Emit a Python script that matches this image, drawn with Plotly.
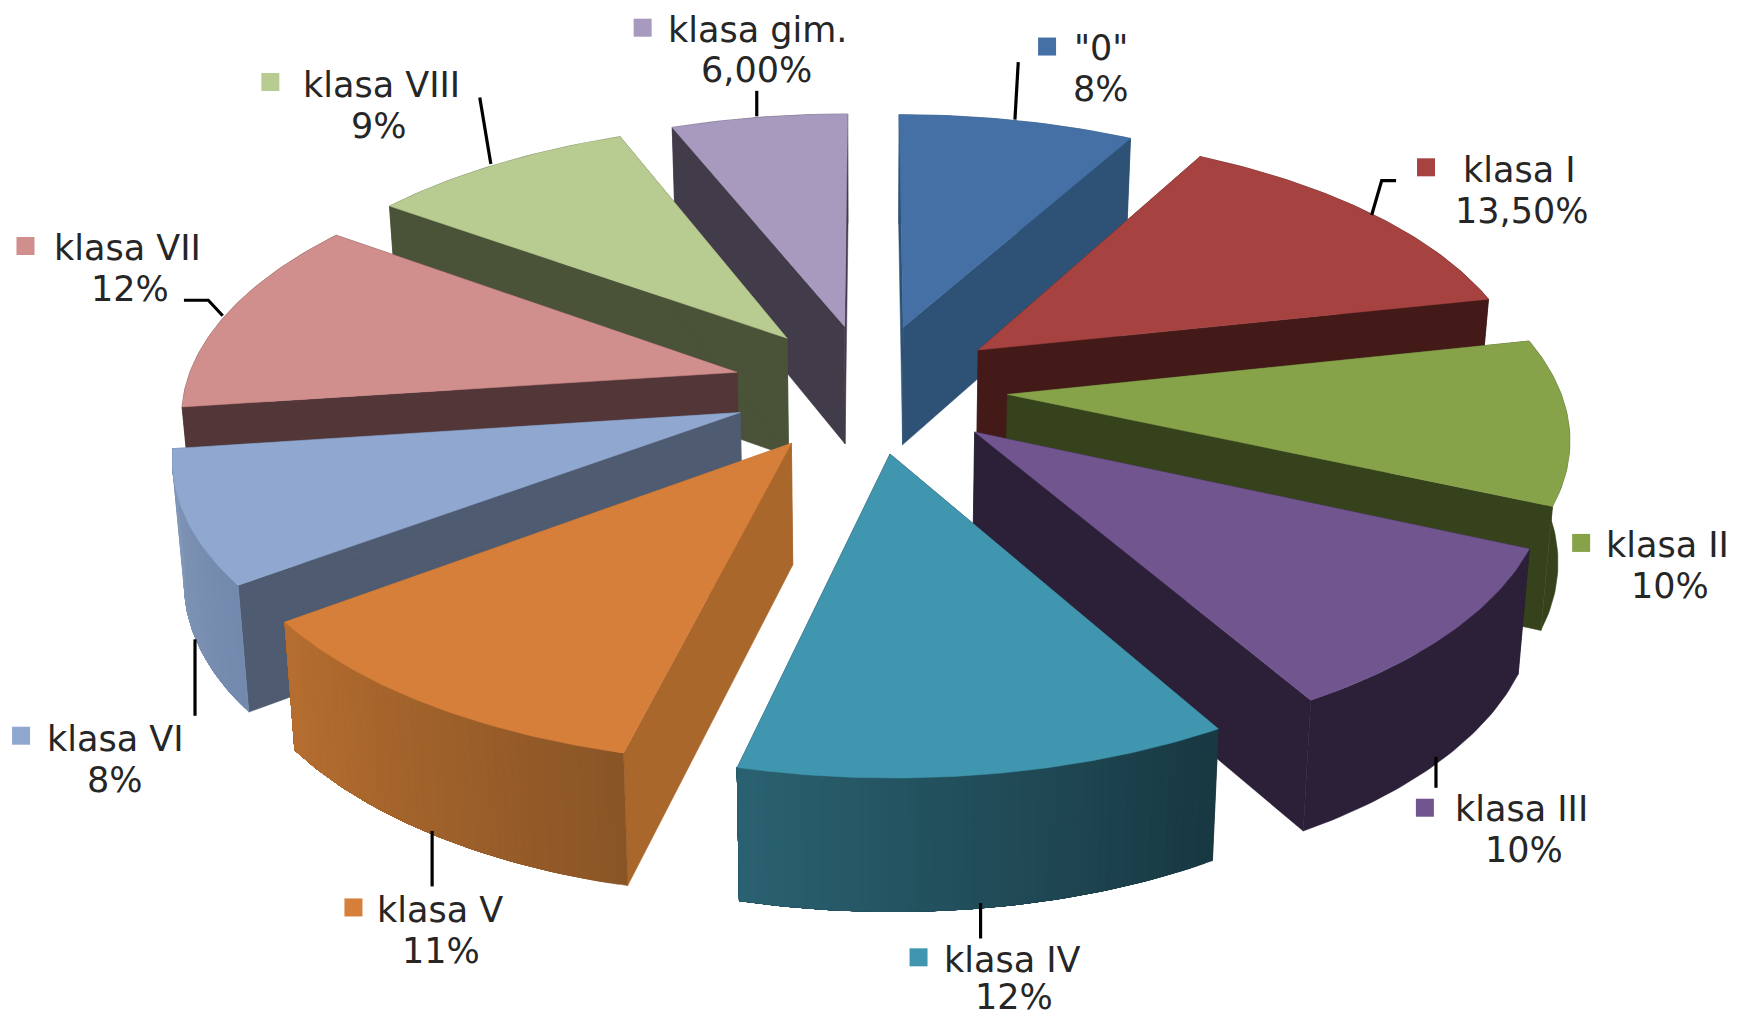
import math
import plotly.graph_objects as go

# ---- data ----
categories = ['"0"', "klasa I", "klasa II", "klasa III", "klasa IV",
              "klasa V", "klasa VI", "klasa VII", "klasa VIII", "klasa gim."]
values = [8, 13.5, 10, 10, 12, 11, 8, 12, 9, 6]
value_labels = ["8%", "13,50%", "10%", "10%", "12%", "11%", "8%", "12%", "9%", "6,00%"]

# ---- styles ----
top_colors = ["#4470A5", "#A64340", "#87A34A", "#71558E", "#3F96AE",
              "#D67F3A", "#90A8D0", "#D08E8C", "#B8CB90", "#A79ABE"]
radial_colors = ["#2E5276", "#431A18", "#36421C", "#2B2037", "#2B2037",
                 "#AA672C", "#4E5B70", "#533637", "#4A5238", "#423B4A"]
wall_left = ["#2E5276", "#431A18", "#36421C", "#2B2037", "#2A6170",
             "#B66E30", "#8398B8", "#533637", "#4A5238", "#423B4A"]
wall_right = ["#2E5276", "#431A18", "#36421C", "#2B2037", "#183842",
              "#8A5526", "#7389AD", "#533637", "#4A5238", "#423B4A"]

S = 1.108                      # px scale of the picture
CX, CY = 785 * S, 350 * S      # projection centre
SX, SY = 498 * S, 233 * S      # plane scale
K = 0.14                       # perspective strength
EXPLODE = 0.25
DEPTH = 108 * S
CONVERGE = 0.983

# label layout: key xy, line-1 xy, line-2 xy
key_pos = [(945, 42), (1287, 151), (1427, 490), (1286, 729), (829, 864),
           (319, 819), (19, 664), (23, 222), (244, 74), (580, 25)]
name_pos = [(994, 43), (1371, 153), (1505, 492), (1373, 730), (914, 866),
            (397, 821), (104, 667), (115, 224), (344, 77), (684, 27)]
pct_pos = [(994, 80), (1373, 190), (1507, 529), (1375, 767), (915, 900),
           (398, 858), (104, 704), (117, 261), (342, 114), (683, 63)]
leaders = [[(919, 56), (916, 108)],
           [(1260, 163), (1247, 163), (1238, 194)],
           None,
           [(1296, 683), (1296, 711)],
           [(885, 815), (885, 847)],
           [(390, 750), (390, 800)],
           [(176, 577), (176, 646)],
           [(166, 271), (188, 271), (201, 285)],
           [(433, 88), (443, 148)],
           [(683, 82), (683, 105)]]
FONT = dict(family="DejaVu Sans", size=35, color="#262626")


def top_pt(x, y):
    w = 1 + K * y
    return CX + SX * x / w, CY - SY * y / w


def bot_pt(x, y):
    w = 1 + K * y
    X, Y = top_pt(x, y)
    return CX + (X - CX) * CONVERGE, Y + DEPTH / w ** 0.57


def mix(a, b, t):
    ca = [int(a[i:i + 2], 16) for i in (1, 3, 5)]
    cb = [int(b[i:i + 2], 16) for i in (1, 3, 5)]
    return "#%02X%02X%02X" % tuple(round(p + (q - p) * t) for p, q in zip(ca, cb))


fig = go.Figure()


def poly(pts, color):
    fig.add_trace(go.Scatter(x=[p[0] for p in pts] + [pts[0][0]],
                             y=[p[1] for p in pts] + [pts[0][1]],
                             mode="lines", fill="toself", fillcolor=color,
                             line=dict(color=color, width=0.5),
                             hoverinfo="skip", showlegend=False))


total = sum(values)
wedges = []
acc = 0.0
for i, v in enumerate(values):
    a0 = acc / total * 2 * math.pi
    acc += v
    a1 = acc / total * 2 * math.pi
    wedges.append((i, a0, a1, (a0 + a1) / 2))

for i, a0, a1, mid in sorted(wedges, key=lambda t: -math.cos(t[3])):
    ox, oy = EXPLODE * math.sin(mid), EXPLODE * math.cos(mid)
    n = max(12, int((a1 - a0) * 70))
    rim = [(ox + math.sin(a0 + (a1 - a0) * k / n), oy + math.cos(a0 + (a1 - a0) * k / n))
           for k in range(n + 1)]
    # radial faces
    for p in (rim[0], rim[-1]):
        poly([top_pt(ox, oy), top_pt(*p), bot_pt(*p), bot_pt(ox, oy)], radial_colors[i])
    # outer wall: one sheet per shade, each sheet laid over the previous one
    xs = [top_pt(*p)[0] for p in rim]
    rev = xs[0] > xs[-1]
    shades = n if wall_left[i] != wall_right[i] else 1
    for s in range(shades):
        t = s / max(1, shades - 1)
        sub = rim[s:]
        poly([top_pt(*p) for p in sub] + [bot_pt(*p) for p in reversed(sub)],
             mix(wall_left[i], wall_right[i], 1 - t if rev else t))
    # top face
    poly([top_pt(ox, oy)] + [top_pt(*p) for p in rim], top_colors[i])

# leader lines
for seg in leaders:
    if seg:
        fig.add_trace(go.Scatter(x=[p[0] * S for p in seg], y=[p[1] * S for p in seg],
                                 mode="lines", line=dict(color="#000000", width=3.2),
                                 hoverinfo="skip", showlegend=False))

# keys + labels
fig.add_trace(go.Scatter(x=[p[0] * S for p in key_pos], y=[p[1] * S for p in key_pos],
                         mode="markers",
                         marker=dict(symbol="square", size=18, color=top_colors, line=dict(width=0)),
                         hoverinfo="skip", showlegend=False))
for i, name in enumerate(categories):
    for txt, pos in ((name, name_pos[i]), (value_labels[i], pct_pos[i])):
        fig.add_annotation(x=pos[0] * S, y=pos[1] * S, text=txt, showarrow=False,
                           xanchor="center", yanchor="middle", font=FONT)

fig.update_layout(width=1738, height=1018, margin=dict(l=0, r=0, t=0, b=0),
                  paper_bgcolor="#FFFFFF", plot_bgcolor="#FFFFFF", showlegend=False,
                  xaxis=dict(range=[0, 1738], visible=False, fixedrange=True),
                  yaxis=dict(range=[1018, 0], visible=False, fixedrange=True))
fig.write_html("out.html", post_script="document.body.style.margin='0';document.body.style.overflow='hidden';",
               config={"displayModeBar": False})
